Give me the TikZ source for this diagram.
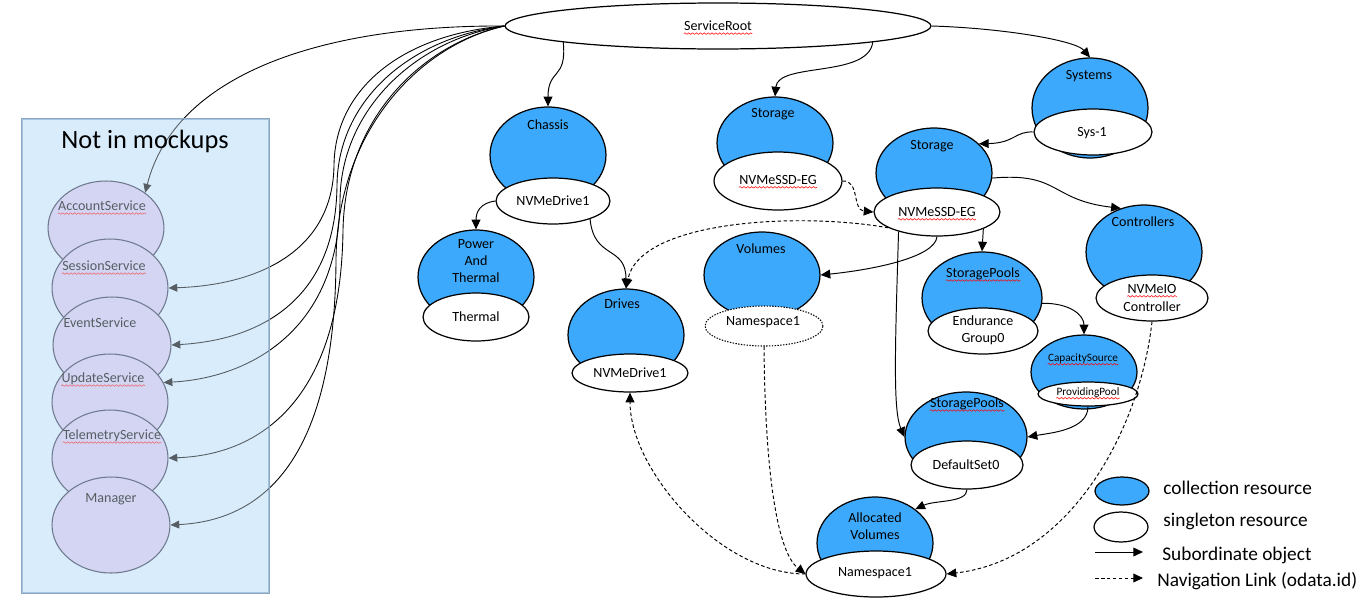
\documentclass[tikz,border=0pt]{standalone}
\usepackage{fontspec}
\setmainfont{Carlito}
\usetikzlibrary{arrows.meta,shapes.geometric,decorations.pathmorphing}
\definecolor{collblue}{HTML}{3DA9FC}
\definecolor{panelfill}{HTML}{D8ECFB}
\definecolor{panelborder}{HTML}{8AA8C6}
\definecolor{panelell}{RGB}{209,199,236}
\definecolor{panelellborder}{RGB}{40,45,70}
\begin{document}
\begin{tikzpicture}[x=0.02cm,y=-0.02cm,
  ell/.style 2 args={ellipse, draw, line width=0.7pt, inner sep=0pt, minimum width=#1*0.04cm, minimum height=#2*0.04cm},
  coll/.style 2 args={ell={#1}{#2}, fill=collblue},
  sing/.style 2 args={ell={#1}{#2}, fill=white},
  pell/.style 2 args={ell={#1}{#2}, fill=panelell, draw=panelellborder, line width=0.6pt},
  lbl/.style={inner sep=0pt, font=\fontsize{8}{9.9}\selectfont, align=center},
  small/.style={inner sep=0pt, font=\fontsize{6.4}{7.5}\selectfont},
  legtext/.style={inner sep=0pt, anchor=west, font=\fontsize{11}{13}\selectfont},
  sq/.style={red, line width=0.3pt, decorate, decoration={snake, amplitude=0.45pt, segment length=2.2pt}},
  sub/.style={-{Triangle[length=5.5pt,width=5pt]}, line width=0.55pt},
  nav/.style={sub, dash pattern=on 2pt off 1.4pt},
  fan/.style={-{Triangle[length=5pt,width=4.5pt]}, line width=0.5pt}
]
\useasboundingbox (0,0) rectangle (1371,605);

% ---------- panel ----------
\node[draw=panelborder, fill=panelfill, line width=0.6pt, minimum width=247*0.02cm, minimum height=474*0.02cm, inner sep=0pt] (pnl) at (145.5,356) {};

\node[pell={58}{47}] (acc) at (106,228) {};
\node[lbl] (accT) at (102,206) {AccountService};
\node[pell={58}{49}] (ses) at (110,288) {};
\node[lbl] (sesT) at (104,266) {SessionService};
\node[pell={59}{48}] (evt) at (112,345) {};
\node[lbl] (evtT) at (100,323) {EventService};
\node[pell={58}{48}] (upd) at (110,402) {};
\node[lbl] (updT) at (103,379) {UpdateService};
\node[pell={58}{48}] (tel) at (110,458) {};
\node[lbl] (telT) at (112,436) {TelemetryService};
\node[pell={59}{48}] (man) at (111,525) {};
\node[lbl] (manT) at (111,499) {Manager};
\foreach \n in {accT,sesT,updT,telT}{
  \draw[sq] ([yshift=-1.6pt]\n.base west) -- ([yshift=-1.6pt]\n.base east);
}

% ---------- main nodes ----------
\node[sing={213}{23}] (sr) at (718,26) {};
\node[lbl] (srT) at (718,26) {ServiceRoot};

\node[coll={58}{48}] (chC) at (548,155) {};
\node[sing={57}{23}] (chS) at (553,201) {};
\node[lbl] (chT) at (548,125) {Chassis};
\node[lbl] (chST) at (553,201) {NVMeDrive1};

\node[coll={58}{47}] (ptC) at (476,277) {};
\node[sing={53}{24}] (ptS) at (476,317) {};
\node[lbl] (ptT) at (476,261) {Power\\And\\Thermal};
\node[lbl] (ptST) at (476,317) {Thermal};

\node[coll={58}{46}] (drC) at (626,335) {};
\node[sing={58}{19}] (drS) at (630,373) {};
\node[lbl] (drT) at (622,304) {Drives};
\node[lbl] (drST) at (630,373) {NVMeDrive1};

\node[coll={58}{46}] (s1C) at (775,143) {};
\node[sing={64}{29}] (s1S) at (778,181) {};
\node[lbl] (s1T) at (773,114) {Storage};
\node[lbl] (s1ST) at (778,180) {NVMeSSD-EG};

\node[coll={58}{45}] (s2C) at (934,173) {};
\node[sing={63}{24}] (s2S) at (937,212) {};
\node[lbl] (s2T) at (932,146) {Storage};
\node[lbl] (s2ST) at (937,212) {NVMeSSD-EG};

\node[coll={58}{43}] (voC) at (762,275) {};
\node[sing={59}{20}, dash pattern=on 0.8pt off 0.8pt, line width=0.6pt] (voS) at (764,326) {};
\node[lbl] (voT) at (761,249) {Volumes};
\node[lbl] (voST) at (763,322) {Namespace1};

\node[coll={60}{46}] (p1C) at (982,298) {};
\node[sing={55}{23}] (p1S) at (983,331) {};
\node[lbl] (p1T) at (983,274) {StoragePools};
\node[lbl] (p1ST) at (983,330) {Endurance\\Group0};

\node[coll={53}{37}] (csC) at (1084,372) {};
\node[sing={50}{12}] (csS) at (1088,394) {};
\node[small] (csT) at (1083,359) {CapacitySource};
\node[small] (csST) at (1088,393) {ProvidingPool};

\node[coll={61}{45}] (p2C) at (966,437) {};
\node[sing={56}{24}] (p2S) at (967,465) {};
\node[lbl] (p2T) at (967,404) {StoragePools};
\node[lbl] (p2ST) at (966,465) {DefaultSet0};

\node[coll={58}{46}] (avC) at (875,543) {};
\node[sing={70}{23}] (avS) at (876,574) {};
\node[lbl] (avT) at (875,526) {Allocated\\Volumes};
\node[lbl] (avST) at (875,573) {Namespace1};

\node[coll={58}{50}] (syC) at (1090,108) {};
\node[sing={59}{23}] (syS) at (1093,132) {};
\node[lbl] (syT) at (1089,76) {Systems};
\node[lbl] (syST) at (1092,133) {Sys-1};

\node[coll={58}{47}] (ctC) at (1144,252) {};
\node[sing={56}{23}] (ctS) at (1152,298) {};
\node[lbl] (ctT) at (1143,222) {Controllers};
\node[lbl] (ctS1) at (1152,289) {NVMeIO};
\node[lbl] (ctS2) at (1152,307) {Controller};

\foreach \n in {srT,s1ST,s2ST,p1T,p2T,ctS1}{
  \draw[sq] ([yshift=-1.6pt]\n.base west) -- ([yshift=-1.6pt]\n.base east);
}
\foreach \n in {csT,csST}{
  \draw[sq] ([yshift=-1.3pt]\n.base west) -- ([yshift=-1.3pt]\n.base east);
}

% ---------- legend ----------
\node[coll={27}{14}] (lgC) at (1122,491) {};
\node[sing={27}{15}] (lgS) at (1121,527) {};
\coordinate (lgA1) at (1095,552);
\coordinate (lgA2) at (1143,552);
\coordinate (lgB1) at (1095,578);
\coordinate (lgB2) at (1143,578);
\draw[sub] (lgA1) -- (lgA2);
\draw[nav] (lgB1) -- (lgB2);
\node[legtext] (lg1) at (1163,488) {collection resource};
\node[legtext] (lg2) at (1163,521) {singleton resource};
\node[legtext] (lg3) at (1162,555) {Subordinate object};
\node[legtext] (lg4) at (1157,581) {Navigation Link (odata.id)};

% ---------- fan from ServiceRoot to panel ----------
\draw[fan] (sr.west) .. controls (320,25) and (175,75) .. (acc.42);
\draw[fan] (sr.west) .. controls (400,35) and (335,90) .. (334,165) .. controls (333,250) and (260,285) .. (ses.east);
\draw[fan] (sr.west) .. controls (410,38) and (338,100) .. (337,185) .. controls (336,300) and (260,340) .. (evt.east);
\draw[fan] (sr.west) .. controls (415,40) and (341,110) .. (340,200) .. controls (339,330) and (250,378) .. (upd.20);
\draw[fan] (sr.west) .. controls (420,45) and (345,120) .. (343,230) .. controls (341,400) and (260,455) .. (tel.east);
\draw[fan] (sr.west) .. controls (420,45) and (337,130) .. (336,260) .. controls (335,450) and (270,520) .. (man.east);

% panel tint overlay
\fill[panelfill, opacity=0.4] (pnl.south west) rectangle (pnl.north east);
\draw[panelborder, line width=0.6pt] (pnl.south west) rectangle (pnl.north east);
\node[inner sep=0pt, font=\fontsize{15}{18}\selectfont] (pnlT) at (145,141) {Not in mockups};

% ---------- subordinate connectors ----------
\draw[sub] (sr.186) .. controls (567,80) and (548,68) .. (chC.north);
\draw[sub] (sr.354) .. controls (868,78) and (778,62) .. (s1C.north);
\draw[sub] (sr.east) .. controls (1000,28) and (1075,40) .. (syC.north);
\draw[sub] (syS.west) .. controls (1015,131) and (1015,143) .. (s2C.33);
\draw[sub] (s2C.-5) .. controls (1060,172) and (1050,200) .. (ctC.118);
\draw[sub] (s2S.-20) -- (p1C.north);
\draw[sub] (s2S.south) .. controls (935,258) and (870,270) .. (voC.east);
\draw[sub] (s2S.207) .. controls (895,350) and (893,410) .. (p2C.west);
\draw[sub] (chS.west) .. controls (480,203) and (476,212) .. (ptC.north);
\draw[sub] (chS.-26) .. controls (594,260) and (626,245) .. (drC.north);
\draw[sub] (p1C.-5) .. controls (1070,303) and (1084,315) .. (csC.north);
\draw[sub] (csS.south) .. controls (1088,430) and (1050,433) .. (p2C.east);
\draw[sub] (p2S.south) .. controls (967,503) and (935,500) .. (avC.40);

% ---------- navigation links ----------
\draw[nav] (s1S.east) .. controls (860,180) and (852,210) .. (s2S.west);
\draw[nav] (s2S.198) .. controls (800,212) and (640,220) .. (drC.north);
\draw[nav] (ctS.south) .. controls (1140,430) and (1070,560) .. (avS.east);
\draw[nav] (voS.south) .. controls (765,460) and (775,550) .. (avS.west);
\draw[nav] (avS.west) .. controls (720,574) and (630,470) .. (drS.south);
\end{tikzpicture}
\end{document}
